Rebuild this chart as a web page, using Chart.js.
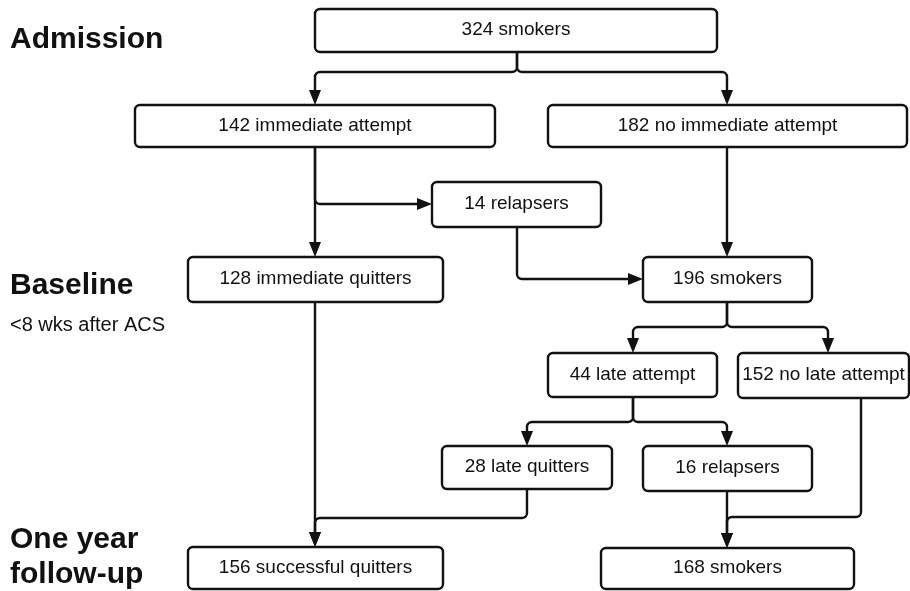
<!DOCTYPE html>
<html>
<head>
<meta charset="utf-8">
<script src="https://cdn.jsdelivr.net/npm/chart.js@4/dist/chart.umd.min.js"></script>
<style>
  html, body { margin: 0; padding: 0; background: #fff; }
  canvas { display: block; }
</style>
</head>
<body>
<canvas id="flow" width="910" height="591"></canvas>
<script>
// --- flow counts and box texts ---
const counts = [324, 142, 182, 14, 128, 196, 44, 152, 28, 16, 156, 168];
const groups = ["smokers", "immediate attempt", "no immediate attempt", "relapsers",
  "immediate quitters", "smokers", "late attempt", "no late attempt",
  "late quitters", "relapsers", "successful quitters", "smokers"];
const stageLabels = [["Admission"], ["Baseline"], ["One year", "follow-up"]];
const stageNotes = ["", "<8 wks after ACS", ""];

// --- layout (scale units, 0..910 x 0..591) ---
const boxes = [
  [315, 717, 9, 52], [135, 495, 105, 147], [548, 907, 105, 147],
  [432, 601, 182, 227], [188, 443, 257, 302], [643, 812, 257, 302],
  [548, 717, 353, 397], [738, 909, 353, 398], [442, 612, 446, 489],
  [643, 812, 446, 491], [188, 443, 547, 589], [601, 854, 548, 589]
];
const links = [
  [[517, 52], [517, 72], [315, 72], [315, 105]],
  [[517, 52], [517, 72], [727, 72], [727, 105]],
  [[315, 147], [315, 257]],
  [[315, 147], [315, 204], [432, 204]],
  [[727, 147], [727, 257]],
  [[517, 227], [517, 279], [643, 279]],
  [[727, 302], [727, 327], [633, 327], [633, 353]],
  [[727, 302], [727, 327], [828, 327], [828, 353]],
  [[633, 397], [633, 422], [527, 422], [527, 446]],
  [[633, 397], [633, 422], [727, 422], [727, 446]],
  [[315, 302], [315, 547]],
  [[527, 489], [527, 518], [315, 518], [315, 547]],
  [[727, 491], [727, 548]],
  [[861, 398], [861, 517], [727, 517], [727, 548]]
];
const stagePos = [[10, 48], [10, 294], [10, 548]];
const notePos = [null, [10, 331], null];

const ink = "#111";
const font = '"Liberation Sans", Arial, sans-serif';

const flowPlugin = {
  id: "flow",
  afterDraw(chart) {
    const ctx = chart.ctx;
    const sx = chart.scales.x, sy = chart.scales.y;
    const px = v => sx.getPixelForValue(v);
    const py = v => sy.getPixelForValue(v);
    ctx.save();
    ctx.strokeStyle = ink;
    ctx.fillStyle = ink;
    ctx.lineWidth = 2.4;
    ctx.lineJoin = "round";

    // connectors
    links.forEach(pts => {
      const p = pts.map(q => [px(q[0]), py(q[1])]);
      const n = p.length;
      const a = p[n - 2], b = p[n - 1];
      const dx = b[0] - a[0], dy = b[1] - a[1];
      const len = Math.hypot(dx, dy);
      const ux = dx / len, uy = dy / len;
      const head = 15, half = 6;
      const end = [b[0] - ux * (head - 1), b[1] - uy * (head - 1)];
      ctx.beginPath();
      ctx.moveTo(p[0][0], p[0][1]);
      for (let i = 1; i < n - 1; i++) ctx.arcTo(p[i][0], p[i][1], p[i + 1][0], p[i + 1][1], 5);
      ctx.lineTo(end[0], end[1]);
      ctx.stroke();
      ctx.beginPath();
      ctx.moveTo(b[0], b[1]);
      ctx.lineTo(b[0] - ux * head - uy * half, b[1] - uy * head + ux * half);
      ctx.lineTo(b[0] - ux * head + uy * half, b[1] - uy * head - ux * half);
      ctx.closePath();
      ctx.fill();
    });

    // boxes
    ctx.font = "19px " + font;
    ctx.textAlign = "center";
    ctx.textBaseline = "middle";
    boxes.forEach((bx, i) => {
      const x0 = px(bx[0]), x1 = px(bx[1]), y0 = py(bx[2]), y1 = py(bx[3]);
      ctx.fillStyle = "#fff";
      ctx.beginPath();
      ctx.roundRect(x0, y0, x1 - x0, y1 - y0, 5);
      ctx.fill();
      ctx.stroke();
      ctx.fillStyle = ink;
      ctx.fillText(counts[i] + " " + groups[i], (x0 + x1) / 2, (y0 + y1) / 2 - 0.5);
    });

    // stage labels
    ctx.textAlign = "left";
    ctx.textBaseline = "alphabetic";
    stageLabels.forEach((lines, i) => {
      ctx.font = "bold 30px " + font;
      lines.forEach((t, j) => ctx.fillText(t, px(stagePos[i][0]), py(stagePos[i][1] + j * 35)));
      if (stageNotes[i]) {
        ctx.font = "20px " + font;
        ctx.fillText(stageNotes[i], px(notePos[i][0]), py(notePos[i][1]));
      }
    });
    ctx.restore();
  }
};

new Chart(document.getElementById("flow"), {
  type: "scatter",
  data: { datasets: [{ data: [], pointRadius: 0 }] },
  options: {
    responsive: false,
    animation: false,
    layout: { padding: 0 },
    plugins: { legend: { display: false }, tooltip: { enabled: false } },
    scales: {
      x: { type: "linear", min: 0, max: 910, display: false },
      y: { type: "linear", min: 0, max: 591, reverse: true, display: false }
    }
  },
  plugins: [flowPlugin]
});
</script>
</body>
</html>
